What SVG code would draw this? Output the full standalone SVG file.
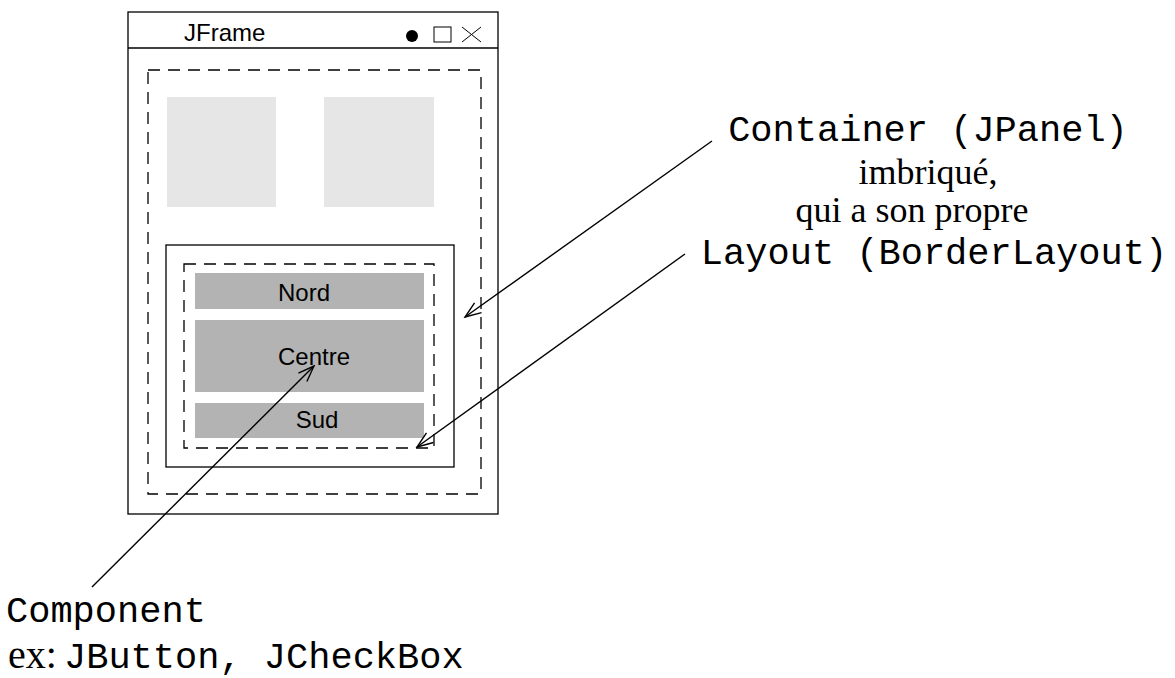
<svg xmlns="http://www.w3.org/2000/svg" width="1175" height="678" viewBox="0 0 1175 678">
<style>
.s{fill:none;stroke:#000;stroke-width:1.3}
.d{fill:none;stroke:#000;stroke-width:1.3;stroke-dasharray:12 8}
.lg{fill:#e6e6e6}
.dg{fill:#b3b3b3}
.sans{font-family:"Liberation Sans",Arial,sans-serif;font-size:24px;fill:#000}
.mono{font-family:"Liberation Mono","Courier New",monospace;font-size:37px;fill:#000}
.serif{font-family:"Liberation Serif","Times New Roman",serif;font-size:36px;fill:#000}
.c{stroke:#000;stroke-width:1.4;fill:none}
</style>
<defs>
<marker id="ah" viewBox="0 0 20 20" refX="18" refY="10" markerWidth="20" markerHeight="20" markerUnits="userSpaceOnUse" orient="auto">
<path d="M2,4 L18,10 L2,16" fill="none" stroke="#000" stroke-width="1.4"/>
</marker>
</defs>
<rect width="1175" height="678" fill="#fff"/>
<g id="jframe">
<rect class="s" x="128" y="12" width="370" height="502"/>
<line class="s" x1="128" y1="48" x2="498" y2="48"/>
<text class="sans" x="184" y="41">JFrame</text>
<circle cx="412" cy="36" r="6" fill="#000"/>
<rect x="434" y="27" width="17" height="15" fill="none" stroke="#000" stroke-width="1"/>
<path d="M462,27 L481,42 M481,27 L462,42" stroke="#000" stroke-width="1" fill="none"/>
</g>
<g id="container-outer">
<rect class="d" x="148" y="70" width="333" height="424"/>
<rect class="lg" x="167" y="97" width="109" height="110"/>
<rect class="lg" x="324" y="97" width="110" height="110"/>
</g>
<g id="panel">
<rect class="s" x="166" y="245" width="288" height="222"/>
<rect class="d" x="184" y="264" width="250" height="184"/>
</g>
<g id="nord">
<rect class="dg" x="195" y="273" width="229" height="36"/>
<text class="sans" x="304" y="301" text-anchor="middle">Nord</text>
</g>
<g id="centre">
<rect class="dg" x="195" y="320" width="229" height="72"/>
<text class="sans" x="314" y="365" text-anchor="middle">Centre</text>
</g>
<g id="sud">
<rect class="dg" x="195" y="403" width="229" height="35"/>
<text class="sans" x="317" y="428" text-anchor="middle">Sud</text>
</g>
<g id="connectors">
<line class="c" x1="712" y1="141" x2="465" y2="317" marker-end="url(#ah)"/>
<line class="c" x1="685" y1="254" x2="417" y2="447" marker-end="url(#ah)"/>
<line class="c" x1="92" y1="587" x2="314" y2="366" marker-end="url(#ah)"/>
</g>
<g id="label-container">
<text class="mono" x="928" y="141" text-anchor="middle">Container (JPanel)</text>
<text class="serif" x="928" y="184" text-anchor="middle">imbriqué,</text>
<text class="serif" x="912" y="222" text-anchor="middle">qui a son propre</text>
<text class="mono" x="934" y="264" text-anchor="middle">Layout (BorderLayout)</text>
</g>
<g id="label-component">
<text class="mono" x="6" y="622">Component</text>
<text x="8" y="668"><tspan class="serif" style="font-size:40px">ex:</tspan><tspan class="mono" x="64">JButton, JCheckBox</tspan></text>
</g>
</svg>
